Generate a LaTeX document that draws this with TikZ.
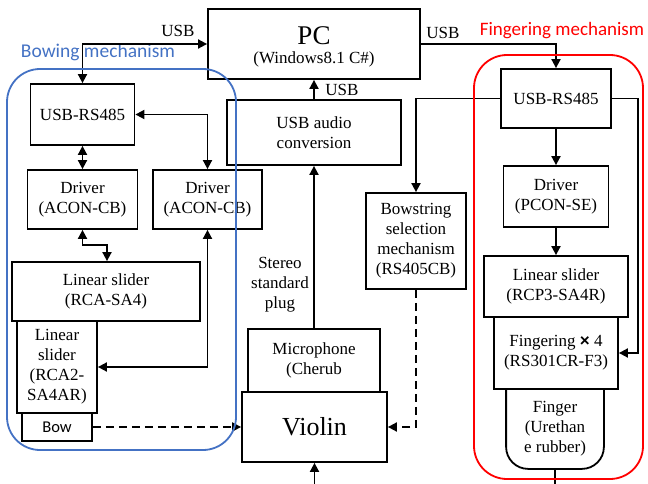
\documentclass[tikz,border=0pt]{standalone}
\usepackage{fontspec}
\setmainfont{Liberation Serif}
\newfontfamily\calib{Carlito}
\newfontfamily\symf{Liberation Sans}
\usetikzlibrary{arrows.meta}
\definecolor{bluec}{RGB}{68,114,196}
\definecolor{redc}{RGB}{255,0,0}
\begin{document}
\begin{tikzpicture}[x=1pt,y=-1pt, line width=1.8pt,
  box/.style={draw, rectangle, inner sep=0pt, align=center, font=\fontsize{17}{20}\selectfont},
  txt/.style={inner sep=0pt, align=center, font=\fontsize{17}{20}\selectfont},
  tip/.style={-{Triangle[length=9pt,width=9pt]}},
  both/.style={{Triangle[length=9pt,width=9pt]}-{Triangle[length=9pt,width=9pt]}},
  dsh/.style={dash pattern=on 8pt off 5pt}]
\useasboundingbox (0,0) rectangle (648,484);

% PC
\node[box, minimum width=212pt, minimum height=70pt] (pc) at (314,44) {};
\node[anchor=base, inner sep=0pt, font=\fontsize{27}{30}\selectfont] (pct) at (314,45) {PC};
\node[anchor=base, inner sep=0pt, font=\fontsize{17}{20}\selectfont] (pcw) at (314,64) {(Windows8.1 C\#)};

% Bowing side
\node[box, minimum width=104pt, minimum height=61pt] (usbl) at (82.5,114.5) {USB-RS485};
\node[box, minimum width=110pt, minimum height=59pt] (drvl) at (82.5,199.5) {Driver\\(ACON-CB)};
\node[box, minimum width=109pt, minimum height=59pt] (drvr) at (207.5,199.5) {Driver\\(ACON-CB)};
\node[box, minimum width=188pt, minimum height=59pt] (sla) at (106,291.5) {Linear slider\\(RCA-SA4)};
\node[box, minimum width=80pt, minimum height=92pt] (slb) at (57,367) {Linear\\slider\\(RCA2-\\SA4AR)};
\node[box, minimum width=70pt, minimum height=28pt, font=\calib\fontsize{16.5}{18}\selectfont] (bow) at (57,427) {Bow};

% Centre
\node[box, minimum width=174pt, minimum height=65pt] (audio) at (314,132.5) {USB audio\\conversion};
\node[box, minimum width=132pt, minimum height=63pt] (mic) at (314,360.5) {Microphone\\(Cherub};
\node[box, minimum width=145pt, minimum height=70pt, font=\fontsize{26}{30}\selectfont] (violin) at (314.5,427) {Violin};
\node[box, minimum width=100pt, minimum height=96pt] (bsel) at (416,241) {Bowstring\\selection\\mechanism\\(RS405CB)};

% Fingering side
\node[box, minimum width=110pt, minimum height=59pt] (usbr) at (556,98.5) {USB-RS485};
\node[box, minimum width=105pt, minimum height=61pt] (drvp) at (556,196.5) {Driver\\(PCON-SE)};
\node[box, minimum width=144pt, minimum height=61pt] (slc) at (556,286.5) {Linear slider\\(RCP3-SA4R)};
\node[box, minimum width=124pt, minimum height=72pt] (fing) at (556,353) {Fingering {\symf\bfseries ×} 4\\(RS301CR-F3)};
\node[txt, minimum width=96pt, minimum height=79pt] (finger) at (555,428.5) {Finger\\(Urethan\\e rubber)};
\draw[rounded corners=22pt] (finger.north west) -- (finger.south west) -- (finger.south east) -- (finger.north east);

% Labels
\node[txt, anchor=base] (usb1) at (178,37) {USB};
\node[txt, anchor=base] (usb2) at (443,39) {USB};
\node[txt, anchor=base] (usb3) at (342,96) {USB};
\node[txt] (plug) at (280,285) {Stereo\\standard\\plug};
\node[inner sep=0pt, anchor=base, text=bluec, font=\calib\fontsize{19.5}{22}\selectfont] (bowlab) at (98,58) {Bowing mechanism};
\node[inner sep=0pt, anchor=base, text=redc, font=\calib\fontsize{19}{22}\selectfont] (finlab) at (562,36) {Fingering mechanism};

% Connectors
\draw[both] (usbl.north) |- (pc.west);
\draw[both] (drvr.north) |- (usbl.east);
\draw[both] (usbl.south) -- (drvl.north);
\coordinate (k1) at (107,245);
\draw[both] (drvl.south) |- (k1) -- (k1 |- sla.north);
\draw[both] (drvr.south) |- (slb.east);
\draw[tip, dsh] (bow.east) -- (violin.west);
\draw[tip] (audio.north) -- (pc.south);
\draw[tip] (mic.north) -- (audio.south);
\coordinate (vin) at (314.5,484);
\draw[tip] (vin) -- (violin.south);
\draw[tip] (usbr.west) -| (bsel.north);
\draw[tip, dsh] (bsel.south) |- (violin.east);
\draw[tip] (pc.east) -| (usbr.north);
\coordinate (k2) at (638,98.5);
\draw[tip] (usbr.east) -- (k2) |- (fing.east);
\draw[tip] (usbr.south) -- (drvp.north);
\draw[tip] (drvp.south) -- (slc.north);
\coordinate (fout) at (555,484);
\draw (finger.south) -- (fout);

% Group frames
\draw[bluec, rounded corners=33pt] (7,69) rectangle (236,450);
\draw[redc, rounded corners=33pt] (474,55) rectangle (643,479);
\end{tikzpicture}
\end{document}
